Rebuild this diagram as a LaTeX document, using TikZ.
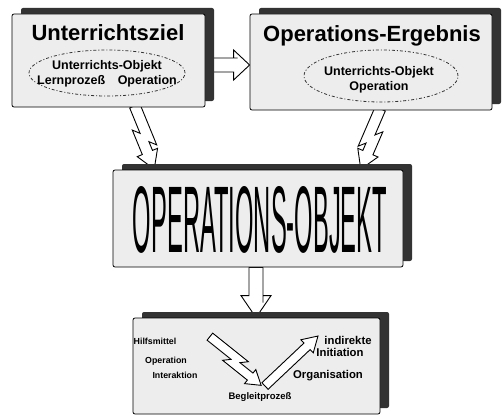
\documentclass[tikz,border=0pt]{standalone}
\usepackage{fontspec}
\setmainfont{Liberation Sans}
\usepackage{graphicx}
\usetikzlibrary{calc, shadows, backgrounds, shapes.geometric}

% hollow arrow from #2 to #3: shaft half width #4, head half width #5, head length #6, kink #7
\newcommand{\hollowarrow}[7][]{%
  \draw[hollowarr] let \p1=($(#3)-(#2)$), \n1={atan2(\y1,\x1)}, \n2={veclen(\x1,\y1)} in
    [shift={(#2)}, rotate=\n1, #1]
    (0pt, {(#7/2+#4)*1pt})
    -- ({\n2/2+(3+#7/2+#4)*1pt}, {(#7/2+#4)*1pt})
    -- ({\n2/2+(3-#7/2+#4)*1pt}, {(-#7/2+#4)*1pt})
    -- ({\n2-#6*1pt}, {(-#7/2+#4)*1pt})
    -- ({\n2-#6*1pt}, {(-#7/2+#5)*1pt})
    -- ({\n2}, {(-#7/2)*1pt})
    -- ({\n2-#6*1pt}, {(-#7/2-#5)*1pt})
    -- ({\n2-#6*1pt}, {(-#7/2-#4)*1pt})
    -- ({\n2/2+(-3-#7/2-#4)*1pt}, {(-#7/2-#4)*1pt})
    -- ({\n2/2+(-3+#7/2-#4)*1pt}, {(#7/2-#4)*1pt})
    -- (0pt, {(#7/2-#4)*1pt})
    -- cycle;}

\begin{document}
\begin{tikzpicture}[x=1pt, y=-1pt,
    box/.style={draw=black, line width=0.8pt, fill=gray!14, rounded corners=2pt,
      general shadow={fill=black!80, shadow xshift=9pt, shadow yshift=6pt}},
    oval/.style={ellipse, draw=black!80, line width=0.8pt,
      dash pattern=on 3pt off 2pt on 1pt off 2pt},
    titel/.style={font=\fontsize{22}{24}\selectfont\bfseries, inner sep=0pt},
    klein/.style={font=\fontsize{12.5}{15}\selectfont\bfseries, inner sep=0pt},
    links/.style={font=\fontsize{8.8}{10}\selectfont\bfseries, inner sep=0pt},
    mitte/.style={font=\fontsize{9.5}{11}\selectfont\bfseries, inner sep=0pt},
    rechts/.style={font=\fontsize{11.3}{12}\selectfont\bfseries, inner sep=0pt},
    hollowarr/.style={draw=black, line width=0.9pt, fill=white, line join=miter}]
  \useasboundingbox (0,0) rectangle (502,417);

  % boxes
  \node[box, minimum width=193pt, minimum height=93pt] (ziel) at (108.5,60.5) {};
  \node[box, minimum width=242pt, minimum height=96pt] (ergebnis) at (371,62) {};
  \node[box, minimum width=290pt, minimum height=97pt] (objekt) at (258,218.5) {};
  \node[box, minimum width=247pt, minimum height=96pt] (begleit) at (256.5,366) {};

  % Unterrichtsziel
  \node[titel, anchor=base] (zieltitel) at (108,41) {Unterrichtsziel};
  \node[oval, minimum width=156pt, minimum height=46pt] (zieloval) at (107,73) {};
  \node[klein, align=center] (zieltext) at ($(zieloval)+(0,1)$) {Unterrichts-Objekt\\Lernprozeß\hspace{1em}Operation};

  % Operations-Ergebnis
  \node[titel, anchor=base] (ergtitel) at (372,42) {Operations-Ergebnis};
  \node[oval, minimum width=154pt, minimum height=52pt] (ergoval) at (381,76) {};
  \node[klein, align=center] (ergtext) at ($(ergoval)+(-2,4)$) {Unterrichts-Objekt\\Operation};

  % Operations-Objekt
  \node[inner sep=0pt] (objekttitel) at (260,220) {\resizebox{254pt}{66pt}{OPERATIONS-OBJEKT}};

  % Begleitprozess
  \node[links, anchor=base] (hilfs) at (155,344) {Hilfsmittel};
  \node[links, anchor=base] (oper) at (166,363) {Operation};
  \node[links, anchor=base] (inter) at (175,378) {Interaktion};
  \node[mitte, anchor=base] (begl) at (260,399) {Begleitprozeß};
  \node[rechts, anchor=base] (indir) at (348,344) {indirekte};
  \node[rechts, anchor=base] (initi) at (340,356) {Initiation};
  \node[rechts, anchor=base] (orga) at (328,378) {Organisation};

  % arrows
  \coordinate (zielrechts) at ($(ziel.east)+(0,4.5)$);
  \coordinate (ergebnislinks) at (zielrechts -| ergebnis.west);
  \coordinate (zielunten) at (132,107);
  \coordinate (objektlinks) at (157,168);
  \coordinate (ergebnisunten) at (383,110);
  \coordinate (objektrechts) at (358,168);
  \coordinate (objektunten) at ($(objekt.south)+(-2,0)$);
  \coordinate (begleitoben) at (objektunten |- begleit.north);
  \begin{scope}[on background layer]
    \hollowarrow{zielrechts}{ergebnislinks}{7}{15}{16}{0}
    \hollowarrow{zielunten}{objektlinks}{5.5}{11}{18}{6}
    \hollowarrow[yscale=-1]{ergebnisunten}{objektrechts}{5.5}{11}{18}{6}
    \hollowarrow{objektunten}{begleitoben}{7}{15}{22}{0}
  \end{scope}

  \coordinate (hilfsende) at (208,339);
  \coordinate (beglspitze) at (263,383);
  \coordinate (beglfuss) at (265,386);
  \coordinate (initispitze) at (318,336);
  \hollowarrow{hilfsende}{beglspitze}{4.5}{9}{14}{6}
  \hollowarrow{beglfuss}{initispitze}{4.5}{9}{15}{0}
\end{tikzpicture}
\end{document}
